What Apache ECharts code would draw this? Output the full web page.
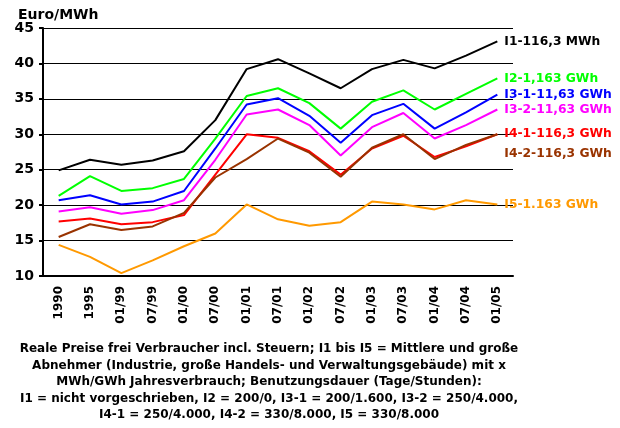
<!DOCTYPE html>
<html>
<head>
<meta charset="utf-8">
<script src="https://cdn.jsdelivr.net/npm/echarts@6/dist/echarts.min.js"></script>
<style>
  html, body { margin: 0; padding: 0; background: #fff; }
  #chart { width: 620px; height: 428px; }
</style>
</head>
<body>
<div id="chart"></div>
<script>
// Zeitpunkte
const categories = ['1990', '1995', '01/99', '07/99', '01/00', '07/00', '01/01', '07/01',
  '01/02', '07/02', '01/03', '07/03', '01/04', '07/04', '01/05']

// Preise in Euro/MWh
const i1 = [24.9, 26.4, 25.7, 26.3, 27.6, 32.0, 39.2, 40.6, 38.6, 36.5, 39.2, 40.5, 39.3, 41.1, 43.1]
const i2 = [21.3, 24.1, 22.0, 22.4, 23.7, 29.4, 35.4, 36.5, 34.4, 30.8, 34.6, 36.2, 33.5, 35.7, 37.9]
const i31 = [20.7, 21.4, 20.1, 20.5, 22.0, 28.0, 34.2, 35.1, 32.6, 28.8, 32.7, 34.3, 30.8, 33.1, 35.6]
const i32 = [19.1, 19.7, 18.8, 19.3, 20.7, 26.4, 32.8, 33.5, 31.3, 27.0, 31.0, 33.0, 29.4, 31.3, 33.5]
const i41 = [17.7, 18.1, 17.3, 17.6, 18.6, 24.3, 30.0, 29.5, 27.6, 24.3, 28.0, 29.8, 26.8, 28.3, 30.0]
const i42 = [15.5, 17.3, 16.5, 17.0, 18.9, 23.9, 26.5, 29.4, 27.4, 24.0, 28.1, 30.0, 26.5, 28.5, 30.0]
const i5 = [14.4, 12.7, 10.4, 12.2, 14.2, 16.0, 20.1, 18.0, 17.1, 17.6, 20.5, 20.1, 19.4, 20.7, 20.1]

const seriesNames = ['I1-116,3 MWh', 'I2-1,163 GWh', 'I3-1-11,63 GWh', 'I3-2-11,63 GWh',
  'I4-1-116,3 GWh', 'I4-2-116,3 GWh', 'I5-1.163 GWh']

const caption = 'Reale Preise frei Verbraucher incl. Steuern; I1 bis I5 = Mittlere und große\n' +
  'Abnehmer (Industrie, große Handels- und Verwaltungsgebäude) mit x\n' +
  'MWh/GWh Jahresverbrauch; Benutzungsdauer (Tage/Stunden):\n' +
  'I1 = nicht vorgeschrieben, I2 = 200/0, I3-1 = 200/1.600, I3-2 = 250/4.000,\n' +
  'I4-1 = 250/4.000, I4-2 = 330/8.000, I5 = 330/8.000'

const font = 'DejaVu Sans, Verdana, sans-serif'

const makeLine = (name, data, color, offset) => ({
  name,
  type: 'line',
  data,
  symbol: 'none',
  lineStyle: { color, width: 2 },
  itemStyle: { color },
  endLabel: {
    show: true,
    formatter: '{a}',
    distance: 7,
    offset: offset || [0, 0],
    color,
    fontFamily: font,
    fontWeight: 'bold',
    fontSize: 12.3
  }
})

const chart = echarts.init(document.getElementById('chart'))
chart.setOption({
  animation: false,
  textStyle: { fontFamily: font },
  title: [{
    text: 'Euro/MWh',
    left: 13,
    top: 3,
    textStyle: { fontFamily: font, fontWeight: 'bold', fontSize: 14, color: '#000' }
  }, {
    text: caption,
    left: 264,
    textAlign: 'center',
    top: 336,
    textStyle: { fontFamily: font, fontWeight: 'bold', fontSize: 12, lineHeight: 16.5, color: '#000' }
  }],
  grid: { left: 43, right: 107, top: 28, bottom: 152 },
  xAxis: [{
    type: 'category',
    data: categories,
    boundaryGap: true,
    axisLine: { lineStyle: { color: '#000', width: 2 } },
    axisTick: { length: 4, lineStyle: { color: '#000', width: 2 } },
    axisLabel: {
      interval: 0,
      rotate: 90,
      margin: 10,
      color: '#000',
      fontFamily: font,
      fontWeight: 'bold',
      fontSize: 12
    }
  }, {
    type: 'category',
    data: categories,
    position: 'bottom',
    boundaryGap: true,
    axisLine: { show: false },
    axisTick: { inside: true, length: 4, lineStyle: { color: '#000', width: 2 } },
    axisLabel: { show: false }
  }],
  yAxis: {
    type: 'value',
    min: 10,
    max: 45,
    interval: 5,
    axisLine: { show: true, lineStyle: { color: '#000', width: 2 } },
    axisTick: { show: true, length: 4, lineStyle: { color: '#000', width: 2 } },
    splitLine: { lineStyle: { color: '#000', width: 1 } },
    axisLabel: {
      margin: 9,
      color: '#000',
      fontFamily: font,
      fontWeight: 'bold',
      fontSize: 14
    }
  },
  series: [
    makeLine(seriesNames[6], i5, '#ff9900'),
    makeLine(seriesNames[4], i41, '#ff0000'),
    makeLine(seriesNames[5], i42, '#993300', [0, 20]),
    makeLine(seriesNames[3], i32, '#ff00ff'),
    makeLine(seriesNames[2], i31, '#0000ff'),
    makeLine(seriesNames[1], i2, '#00ff00'),
    makeLine(seriesNames[0], i1, '#000000')
  ]
})
</script>
</body>
</html>
